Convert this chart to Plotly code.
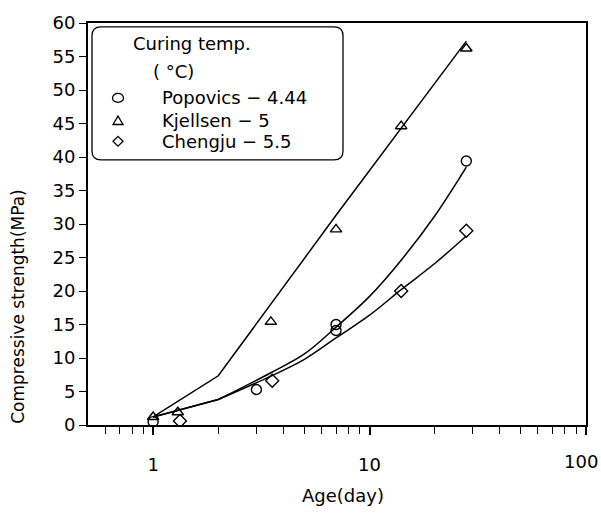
import plotly.graph_objects as go

# ---- data ----
pop_x = [1, 3, 7, 7, 28]
pop_y = [0.5, 5.3, 15.0, 14.1, 39.4]
kje_x = [1, 1.3, 3.5, 7, 14, 28]
kje_y = [1.2, 1.9, 15.4, 29.2, 44.6, 56.2]
che_x = [1.33, 3.55, 14, 28]
che_y = [0.6, 6.6, 20.0, 29.0]

# fitted curves
kje_fit_x = [1, 2, 7, 14, 28]
kje_fit_y = [1.2, 7.35, 31.3, 44.3, 57.3]
pop_fit_x1 = [1, 2]
pop_fit_y1 = [1.2, 3.8]
pop_fit_x2 = [2, 3.5, 5, 7, 10, 14, 20, 28]
pop_fit_y2 = [3.8, 7.8, 10.6, 14.6, 19.2, 24.6, 31.2, 38.5]
che_fit_x1 = [1, 2]
che_fit_y1 = [1.2, 3.8]
che_fit_x2 = [2, 3.5, 5, 7, 10, 14, 20, 28]
che_fit_y2 = [3.8, 7.3, 9.8, 13.0, 16.4, 20.2, 24.1, 28.2]

x_ticks = [1, 10, 100]
x_ticktext = ["1", "10", ""]
x_last_label = "100"
x_minor = [0.6, 0.7, 0.8, 0.9, 2, 3, 4, 5, 6, 7, 8, 9, 20, 30, 40, 50, 60, 70, 80, 90]
y_ticks = list(range(0, 61, 5))

FONT = "DejaVu Sans"
W, H = 601, 515
L, R, T, B = 88, 586, 17, 425

fig = go.Figure()
line = dict(color="black", width=1.5)
spl = dict(color="black", width=1.5, shape="spline", smoothing=1.0)
fig.add_trace(go.Scatter(x=kje_fit_x, y=kje_fit_y, mode="lines", line=line, showlegend=False))
fig.add_trace(go.Scatter(x=pop_fit_x1, y=pop_fit_y1, mode="lines", line=line, showlegend=False))
fig.add_trace(go.Scatter(x=pop_fit_x2, y=pop_fit_y2, mode="lines", line=spl, showlegend=False))
fig.add_trace(go.Scatter(x=che_fit_x1, y=che_fit_y1, mode="lines", line=line, showlegend=False))
fig.add_trace(go.Scatter(x=che_fit_x2, y=che_fit_y2, mode="lines", line=spl, showlegend=False))

mk = dict(color="black", size=10, line=dict(color="black", width=1.4))
fig.add_trace(go.Scatter(x=pop_x, y=pop_y, mode="markers", marker=dict(symbol="circle-open", **mk), showlegend=False))
fig.add_trace(go.Scatter(x=kje_x, y=kje_y, mode="markers", marker=dict(symbol="triangle-up-open", **mk), showlegend=False))
fig.add_trace(go.Scatter(x=che_x, y=che_y, mode="markers", marker=dict(symbol="diamond-open", **mk), showlegend=False))


def P(px, py):
    return ((px - L) / (R - L), (B - py) / (B - T))


def pt(px, py):
    a, b = P(px, py)
    return f"{a:.5f},{b:.5f}"


shapes = []
# rounded legend box
x0, y0, x1, y1, r = 92, 21, 343, 156, 9
path = (f"M {pt(x0+r, y0)} L {pt(x1-r, y0)} Q {pt(x1, y0)} {pt(x1, y0+r)} "
        f"L {pt(x1, y1-r)} Q {pt(x1, y1)} {pt(x1-r, y1)} L {pt(x0+r, y1)} "
        f"Q {pt(x0, y1)} {pt(x0, y1-r)} L {pt(x0, y0+r)} Q {pt(x0, y0)} {pt(x0+r, y0)} Z")
shapes.append(dict(type="path", xref="paper", yref="paper", path=path,
                   line=dict(color="black", width=1.3), fillcolor="white", layer="above"))
# legend symbols
mx = 118
cy = 93
a0, b0 = P(mx - 5.5, cy - 4.5)
a1, b1 = P(mx + 5.5, cy + 4.5)
shapes.append(dict(type="circle", xref="paper", yref="paper", x0=a0, y0=b1, x1=a1, y1=b0,
                   line=dict(color="black", width=1.3), layer="above"))
ty = 116
shapes.append(dict(type="path", xref="paper", yref="paper",
                   path=f"M {pt(mx-5, ty+4)} L {pt(mx+5, ty+4)} L {pt(mx, ty-4.5)} Z",
                   line=dict(color="black", width=1.3), layer="above"))
dy = 137
shapes.append(dict(type="path", xref="paper", yref="paper",
                   path=f"M {pt(mx-5, dy)} L {pt(mx, dy-5)} L {pt(mx+5, dy)} L {pt(mx, dy+5)} Z",
                   line=dict(color="black", width=1.3), layer="above"))

ann = []


def text(px, py, s, size=18, xanchor="left"):
    a, b = P(px, py)
    ann.append(dict(x=a, y=b, xref="paper", yref="paper", text=s, showarrow=False,
                    xanchor=xanchor, yanchor="middle", font=dict(family=FONT, size=size, color="black")))


text(131, 38, "Curing temp.")
text(151, 66, "( °C)")
text(160, 93, "Popovics − 4.44")
text(160, 116, "Kjellsen − 5")
text(160, 137, "Chengju − 5.5")
# last x tick label, kept inside the page like the reference
text(600, 462, x_last_label, xanchor="right")
# axis titles
text(343, 497, "Age(day)", xanchor="center")
a, b = P(18, 305)
ann.append(dict(x=a, y=b, xref="paper", yref="paper", text="Compressive strength(MPa)", showarrow=False,
                textangle=-90, xanchor="center", yanchor="middle",
                font=dict(family=FONT, size=17, color="black")))

fig.update_layout(
    width=W, height=H,
    margin=dict(l=L, r=W - R, t=T, b=H - B, pad=0),
    paper_bgcolor="white", plot_bgcolor="white",
    font=dict(family=FONT, size=18, color="black"),
    shapes=shapes, annotations=ann,
    xaxis=dict(type="log", range=[-0.30103, 2.0002], tickvals=x_ticks, ticktext=x_ticktext,
               ticks="outside", ticklen=8, tickwidth=1.5, tickcolor="black",
               showline=True, linecolor="black", linewidth=1.5, mirror=True,
               showgrid=False, zeroline=False, ticklabelstandoff=15,
               minor=dict(tickvals=x_minor, ticks="outside", ticklen=7, tickwidth=1.3, tickcolor="black", showgrid=False),
               tickfont=dict(family=FONT, size=18)),
    yaxis=dict(range=[0, 60], tickvals=y_ticks, ticks="outside", ticklen=7, tickwidth=1.3, tickcolor="black",
               showline=True, linecolor="black", linewidth=2, mirror=True,
               showgrid=False, zeroline=False, tickfont=dict(family=FONT, size=18)),
)

fig.write_html("out.html")
